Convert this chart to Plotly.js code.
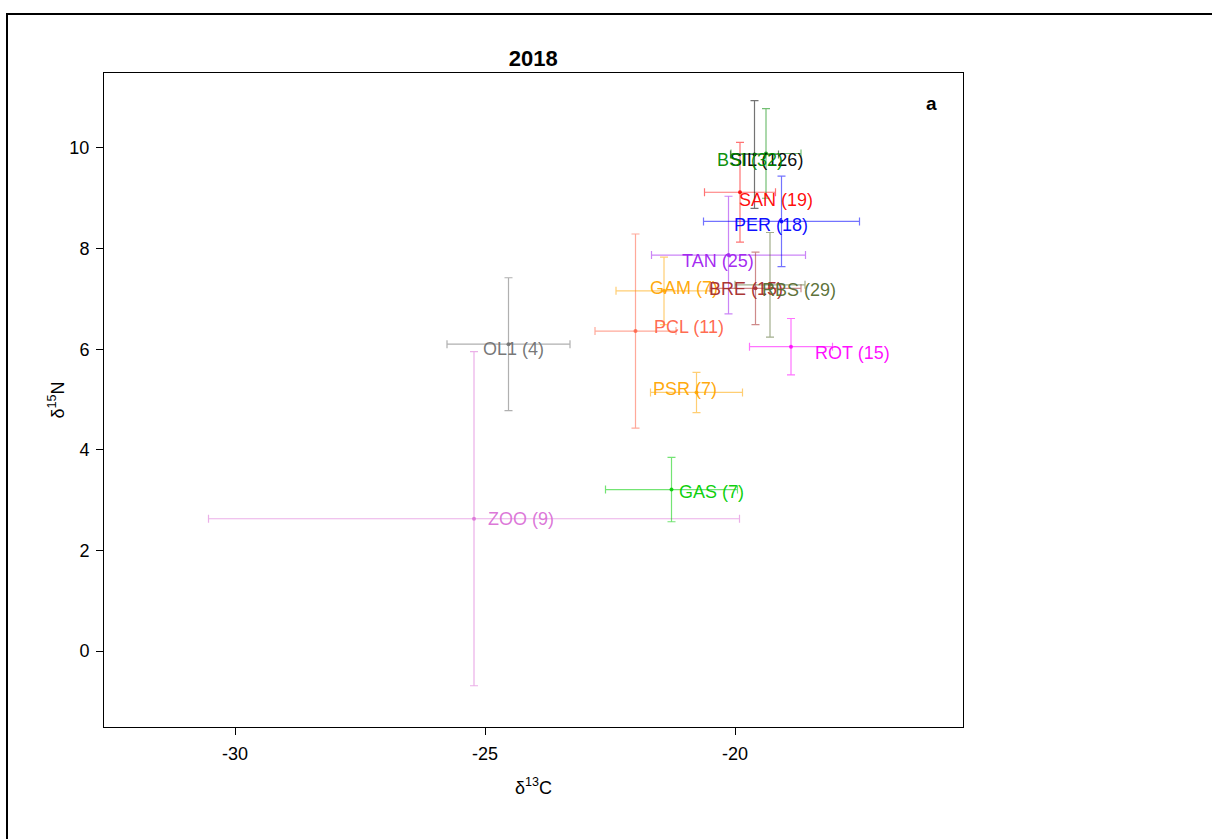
<!DOCTYPE html>
<html>
<head>
<meta charset="utf-8">
<script src="https://cdn.plot.ly/plotly-3.0.1.min.js"></script>
<style>
  html, body { margin: 0; padding: 0; background: #fff; }
  #chart { width: 1212px; height: 839px; }
  #frame { position: absolute; left: 6px; top: 13px; width: 1300px; height: 900px;
           border-left: 2px solid #000; border-top: 2px solid #000; pointer-events: none; }
</style>
</head>
<body>
<div id="chart"></div>
<div id="frame"></div>
<script>
// ---- data ----
const species = ["ZOO", "OL1", "GAS", "PSR", "PCL", "GAM", "TAN", "BRE", "RBS", "ROT", "PER", "SAN", "SIL", "BSI"];
const nSamples = [9, 4, 7, 7, 11, 7, 25, 15, 29, 15, 18, 19, 126, 32];
const meanC = [-25.22, -24.53, -21.27, -20.77, -21.99, -21.42, -20.13, -19.59, -19.30, -18.88, -19.07, -19.90, -19.61, -19.38];
const meanN = [2.63, 6.10, 3.21, 5.14, 6.36, 7.16, 7.87, 7.21, 7.28, 6.05, 8.54, 9.12, 9.87, 9.89];
const sdC = [5.31, 1.23, 1.32, 0.92, 0.81, 0.96, 1.54, 0.91, 0.70, 0.83, 1.56, 0.71, 0.48, 0.70];
const sdN = [3.32, 1.32, 0.64, 0.40, 1.93, 0.67, 1.17, 0.72, 1.04, 0.56, 0.90, 0.99, 1.07, 0.89];
const labelC = [-24.94, -25.04, -21.12, -21.64, -21.62, -21.70, -21.06, -20.52, -19.46, -18.40, -20.02, -19.92, -20.10, -20.36];
const labelN = [2.62, 6.00, 3.16, 5.21, 6.44, 7.22, 7.75, 7.20, 7.18, 5.92, 8.47, 8.97, 9.76, 9.76];
const colors = ["#DA70D6", "#707070", "#00CD00", "#FFA500", "#FF6347", "#FFA500", "#A020F0", "#A52A2A", "#556B2F", "#FF00FF", "#0000FF", "#FF0000", "#000000", "#008B00"];
const xTicks = [-30, -25, -20];
const yTicks = [0, 2, 4, 6, 8, 10];

function rgba(hex, a) {
  const r = parseInt(hex.slice(1, 3), 16), g = parseInt(hex.slice(3, 5), 16), b = parseInt(hex.slice(5, 7), 16);
  return `rgba(${r},${g},${b},${a})`;
}

const FONT = "Liberation Sans, Arial, Helvetica, sans-serif";

const traces = species.map((s, i) => ({
  type: "scatter",
  mode: "markers",
  name: s,
  x: [meanC[i]],
  y: [meanN[i]],
  marker: { color: rgba(colors[i], 0.85), size: 4 },
  error_x: { type: "data", array: [sdC[i]], visible: true, color: rgba(colors[i], 0.55), thickness: 1.2, width: 4 },
  error_y: { type: "data", array: [sdN[i]], visible: true, color: rgba(colors[i], 0.55), thickness: 1.2, width: 4 },
  showlegend: false,
  hoverinfo: "x+y+name"
}));

const annotations = species.map((s, i) => ({
  x: labelC[i], y: labelN[i], xref: "x", yref: "y", xshift: -2,
  text: `${s} (${nSamples[i]})`,
  showarrow: false, xanchor: "left", yanchor: "middle",
  font: { family: FONT, size: 18, color: rgba(colors[i], 0.95) }
}));

annotations.push({
  x: 0.963, y: 0.953, xref: "paper", yref: "paper",
  text: "<b>a</b>", showarrow: false, xanchor: "center", yanchor: "middle",
  font: { family: FONT, size: 19, color: "#000" }
});

const layout = {
  width: 1212, height: 839,
  margin: { l: 104, r: 249, t: 73, b: 112 },
  paper_bgcolor: "#fff", plot_bgcolor: "#fff",
  font: { family: FONT, size: 18, color: "#000" },
  title: {
    text: "<b>2018</b>", x: 0.44, xanchor: "center", y: 1 - 58 / 839, yanchor: "middle",
    font: { family: FONT, size: 22, color: "#000" }
  },
  xaxis: {
    range: [-32.62, -15.44], tickvals: xTicks, ticktext: xTicks.map(String),
    showgrid: false, zeroline: false, showline: true, mirror: true, linecolor: "#000", linewidth: 1,
    ticks: "outside", ticklen: 7, tickcolor: "#000", tickfont: { family: FONT, size: 18 },
    ticklabelstandoff: 3,
    title: { text: "δ<sup>13</sup>C", font: { family: FONT, size: 18 }, standoff: 18 }
  },
  yaxis: {
    range: [-1.51, 11.49], tickvals: yTicks, ticktext: yTicks.map(String),
    showgrid: false, zeroline: false, showline: true, mirror: true, linecolor: "#000", linewidth: 1,
    ticks: "outside", ticklen: 7, tickcolor: "#000", tickfont: { family: FONT, size: 18 },
    ticklabelstandoff: 3,
    title: { text: "δ<sup>15</sup>N", font: { family: FONT, size: 18 }, standoff: 0 }
  },
  annotations: annotations
};

Plotly.newPlot("chart", traces, layout, { displayModeBar: false, staticPlot: true });
</script>
</body>
</html>
